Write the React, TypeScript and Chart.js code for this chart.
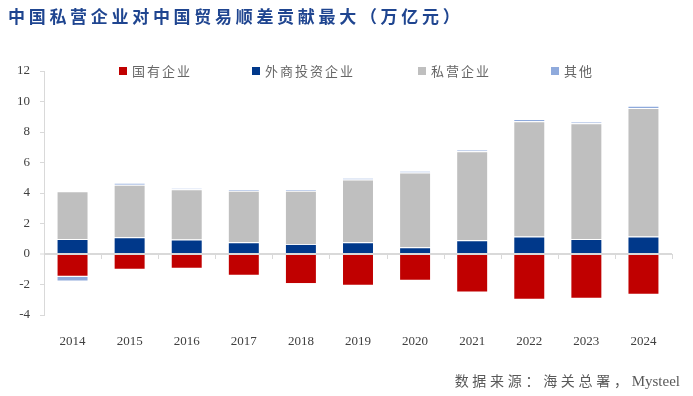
import React, { useEffect, useRef } from "react";
import { Chart, registerables } from "chart.js";

Chart.register(...registerables);

const years = ["2014", "2015", "2016", "2017", "2018", "2019", "2020", "2021", "2022", "2023", "2024"];
const soe = [-1.49, -1.03, -0.96, -1.42, -1.97, -2.08, -1.75, -2.52, -3.0, -2.93, -2.67];
const foreign = [0.99, 1.1, 0.95, 0.77, 0.66, 0.77, 0.44, 0.9, 1.14, 0.99, 1.14];
const privateEnt = [3.13, 3.44, 3.29, 3.38, 3.49, 4.12, 4.91, 5.83, 7.57, 7.59, 8.43];
const other = [-0.31, 0.13, 0.07, 0.1, 0.1, 0.1, 0.09, 0.11, 0.15, 0.1, 0.15];

const seriesNames = ["国有企业", "外商投资企业", "私营企业", "其他"];
const seriesColors = ["#C00000", "#00388A", "#BFBFBF", "#8FAADC"];
const legendLefts = [119, 252, 418, 551];

const yMin = -4;
const yMax = 12;
const yStep = 2;

const titleText = "中国私营企业对中国贸易顺差贡献最大（万亿元）";
const sourceCn = "数据来源：海关总署，";
const sourceEn = "Mysteel";

const serif = "'Liberation Serif', 'Noto Sans CJK SC', serif";

const boundaryTicks = {
  id: "boundaryTicks",
  afterDatasetsDraw(chart: any) {
    const x = chart.scales.x;
    const y = chart.scales.y;
    const y0 = y.getPixelForValue(0);
    const ctx = chart.ctx;
    ctx.save();
    ctx.strokeStyle = "#D9D9D9";
    ctx.lineWidth = 1;
    const n = chart.data.labels.length;
    for (let i = 1; i <= n; i++) {
      const px = i < n ? (x.getPixelForValue(i - 1) + x.getPixelForValue(i)) / 2 : chart.chartArea.right;
      ctx.beginPath();
      ctx.moveTo(Math.round(px) + 0.5, y0);
      ctx.lineTo(Math.round(px) + 0.5, y0 + 5);
      ctx.stroke();
    }
    ctx.restore();
  },
};

export default function App() {
  const ref = useRef<HTMLCanvasElement>(null);

  useEffect(() => {
    document.body.style.margin = "0";
    const data = [soe, foreign, privateEnt, other];
    const chart = new Chart(ref.current as HTMLCanvasElement, {
      type: "bar",
      data: {
        labels: years,
        datasets: seriesNames.map((name, i) => ({
          label: name,
          data: data[i],
          backgroundColor: seriesColors[i],
          borderColor: "rgba(255,255,255,0.85)",
          borderWidth: 1,
          barPercentage: 0.56,
          categoryPercentage: 1,
        })),
      },
      options: {
        responsive: false,
        animation: false,
        layout: { padding: { top: 71, right: 21, left: 0, bottom: 51 } },
        plugins: { legend: { display: false }, title: { display: false }, tooltip: { enabled: false } },
        scales: {
          x: {
            stacked: true,
            grid: { display: false },
            border: { display: false },
            ticks: { color: "#404040", font: { family: serif, size: 13 }, padding: 11 },
            afterFit(scale: any) {
              scale.height = 30;
            },
          },
          y: {
            stacked: true,
            min: yMin,
            max: yMax,
            ticks: { stepSize: yStep, color: "#404040", font: { family: serif, size: 13 }, padding: 10 },
            grid: {
              drawTicks: true,
              tickLength: 4,
              color: (c: any) => (c.tick && c.tick.value === 0 ? "#D9D9D9" : "rgba(0,0,0,0)"),
              lineWidth: (c: any) => (c.tick && c.tick.value === 0 ? 2 : 1),
              tickColor: "#D9D9D9",
              tickWidth: 1,
            },
            border: { display: true, color: "#D9D9D9", width: 1 },
            afterFit(scale: any) {
              scale.width = 44;
            },
          },
        },
      },
      plugins: [boundaryTicks],
    });
    return () => chart.destroy();
  }, []);

  return (
    <div style={{ position: "relative", width: 693, height: 396, background: "#fff", overflow: "hidden" }}>
      <canvas ref={ref} width={693} height={396} style={{ position: "absolute", left: 0, top: 0 }} />
      <div
        style={{
          position: "absolute",
          left: 8,
          top: 5,
          fontFamily: "'Noto Sans CJK SC', sans-serif",
          fontWeight: 700,
          fontSize: 17,
          letterSpacing: 3.7,
          color: "#1F4590",
          whiteSpace: "nowrap",
          lineHeight: "22px",
        }}
      >
        {titleText}
      </div>
      {seriesNames.map((name, i) => (
        <div
          key={name}
          style={{
            position: "absolute",
            left: legendLefts[i],
            top: 62,
            height: 18,
            display: "flex",
            alignItems: "center",
            whiteSpace: "nowrap",
          }}
        >
          <span style={{ display: "inline-block", width: 8, height: 8, background: seriesColors[i], marginRight: 5 }} />
          <span
            style={{
              fontFamily: "'Noto Sans CJK SC', sans-serif",
              fontSize: 13,
              letterSpacing: 2,
              color: "#666666",
              lineHeight: "18px",
            }}
          >
            {name}
          </span>
        </div>
      ))}
      <div
        style={{
          position: "absolute",
          right: 13,
          top: 371,
          fontFamily: serif,
          fontSize: 14,
          color: "#595959",
          whiteSpace: "nowrap",
          lineHeight: "20px",
        }}
      >
        <span style={{ letterSpacing: 3.7 }}>{sourceCn}</span>
        <span style={{ fontSize: 15 }}>{sourceEn}</span>
      </div>
    </div>
  );
}
